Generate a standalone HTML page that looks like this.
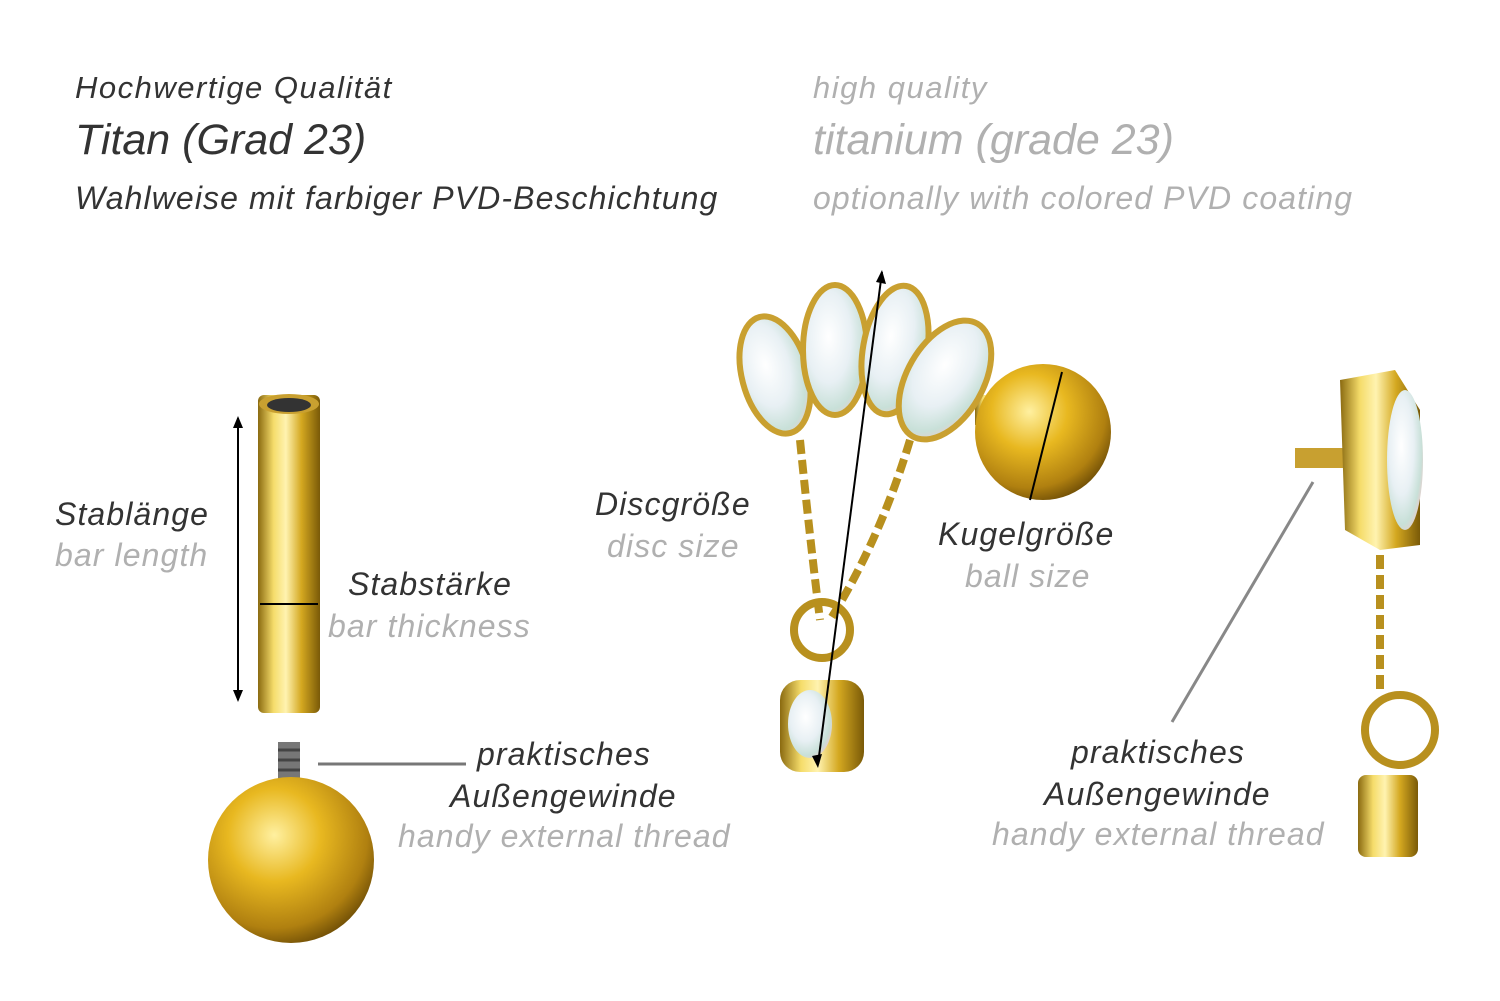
<!DOCTYPE html>
<html><head><meta charset="utf-8"><style>
html,body{margin:0;padding:0;background:#fff;}
#c{position:relative;width:1500px;height:1001px;overflow:hidden;font-family:"Liberation Sans",sans-serif;font-style:italic;}
.t{position:absolute;white-space:nowrap;line-height:1;letter-spacing:1.1px;}
.d{color:#333;}
.g{color:#b0b0b0;}
svg{position:absolute;left:0;top:0;}
</style></head><body><div id="c">
<svg width="1500" height="1001" viewBox="0 0 1500 1001">
<defs>
<linearGradient id="bar" x1="0" x2="1"><stop offset="0" stop-color="#8a6a10"/><stop offset=".25" stop-color="#f5dc6a"/><stop offset=".45" stop-color="#fff3b0"/><stop offset=".7" stop-color="#d4a820"/><stop offset="1" stop-color="#7a5a08"/></linearGradient>
<radialGradient id="ball" cx=".4" cy=".35" r=".7"><stop offset="0" stop-color="#fff0a0"/><stop offset=".4" stop-color="#e8b820"/><stop offset=".8" stop-color="#b08010"/><stop offset="1" stop-color="#6a4a05"/></radialGradient>
<radialGradient id="opal" cx=".4" cy=".4" r=".7"><stop offset="0" stop-color="#ffffff"/><stop offset=".5" stop-color="#e8f0f4"/><stop offset=".8" stop-color="#c8e0d8"/><stop offset="1" stop-color="#f0c8c8"/></radialGradient>
</defs>
<rect x="258" y="395" width="62" height="318" rx="6" fill="url(#bar)"/>
<ellipse cx="289" cy="404" rx="30" ry="10" fill="#c9a030"/>
<ellipse cx="289" cy="405" rx="22" ry="7" fill="#333"/>
<line x1="238" y1="418" x2="238" y2="700" stroke="#000" stroke-width="2"/>
<path d="M233 428 L238 416 L243 428Z M233 690 L238 702 L243 690Z"/>
<line x1="260" y1="604" x2="318" y2="604" stroke="#000" stroke-width="2"/>
<rect x="278" y="742" width="22" height="58" fill="#777"/>
<path d="M278 750h22M278 760h22M278 770h22M278 780h22M278 790h22" stroke="#444" stroke-width="3"/>
<circle cx="291" cy="860" r="83" fill="url(#ball)"/>
<line x1="318" y1="764" x2="466" y2="764" stroke="#777" stroke-width="3"/>
<rect x="975" y="395" width="30" height="30" fill="url(#bar)"/>
<circle cx="1043" cy="432" r="68" fill="url(#ball)"/>
<ellipse cx="775" cy="375" rx="33" ry="60" fill="url(#opal)" stroke="#c9a030" stroke-width="6" transform="rotate(-15 775 375)"/>
<ellipse cx="835" cy="350" rx="32" ry="65" fill="url(#opal)" stroke="#c9a030" stroke-width="6"/>
<ellipse cx="895" cy="350" rx="32" ry="65" fill="url(#opal)" stroke="#c9a030" stroke-width="6" transform="rotate(10 895 350)"/>
<ellipse cx="945" cy="380" rx="38" ry="65" fill="url(#opal)" stroke="#c9a030" stroke-width="6" transform="rotate(30 945 380)"/>
<path d="M800 440 Q810 540 820 620 M910 440 Q880 540 830 620" stroke="#b8901e" stroke-width="8" fill="none" stroke-dasharray="14 6"/>
<circle cx="822" cy="630" r="28" fill="none" stroke="#b8901e" stroke-width="8"/>
<rect x="780" y="680" width="84" height="92" rx="20" fill="url(#bar)"/>
<ellipse cx="810" cy="724" rx="22" ry="34" fill="url(#opal)"/>
<line x1="818" y1="764" x2="882" y2="272" stroke="#000" stroke-width="2"/>
<path d="M876 282 L882 270 L886 284Z M812 756 L818 768 L822 754Z"/>
<line x1="1062" y1="372" x2="1030" y2="500" stroke="#000" stroke-width="2"/>
<rect x="1295" y="448" width="50" height="20" fill="#c8a030"/>
<path d="M1340 380 L1395 370 L1420 410 L1420 545 L1380 550 L1345 530 Z" fill="url(#bar)"/>
<ellipse cx="1405" cy="460" rx="18" ry="70" fill="url(#opal)"/>
<path d="M1380 555 L1380 690" stroke="#b8901e" stroke-width="8" stroke-dasharray="14 6"/>
<circle cx="1400" cy="730" r="35" fill="none" stroke="#b8901e" stroke-width="8"/>
<rect x="1358" y="775" width="60" height="82" rx="8" fill="url(#bar)"/>
<line x1="1313" y1="482" x2="1172" y2="722" stroke="#888" stroke-width="3"/>
</svg>
<div class="t d" style="left:75px;top:72px;font-size:31px;letter-spacing:1.5px">Hochwertige Qualität</div>
<div class="t d" style="left:75px;top:119px;font-size:43px;letter-spacing:0">Titan (Grad 23)</div>
<div class="t d" style="left:75px;top:182px;font-size:32px">Wahlweise mit farbiger PVD-Beschichtung</div>
<div class="t g" style="left:813px;top:72px;font-size:31px;letter-spacing:1.5px">high quality</div>
<div class="t g" style="left:813px;top:119px;font-size:43px;letter-spacing:0">titanium (grade 23)</div>
<div class="t g" style="left:813px;top:182px;font-size:32px">optionally with colored PVD coating</div>
<div class="t d" style="left:55px;top:498px;font-size:32px">Stablänge</div>
<div class="t g" style="left:55px;top:539px;font-size:32px">bar length</div>
<div class="t d" style="left:348px;top:568px;font-size:32px">Stabstärke</div>
<div class="t g" style="left:328px;top:610px;font-size:32px">bar thickness</div>
<div class="t d" style="left:477px;top:738px;font-size:32px">praktisches</div>
<div class="t d" style="left:450px;top:780px;font-size:32px">Außengewinde</div>
<div class="t g" style="left:398px;top:820px;font-size:32px">handy external thread</div>
<div class="t d" style="left:595px;top:488px;font-size:32px">Discgröße</div>
<div class="t g" style="left:607px;top:530px;font-size:32px">disc size</div>
<div class="t d" style="left:938px;top:518px;font-size:32px">Kugelgröße</div>
<div class="t g" style="left:965px;top:560px;font-size:32px">ball size</div>
<div class="t d" style="left:1071px;top:736px;font-size:32px">praktisches</div>
<div class="t d" style="left:1044px;top:778px;font-size:32px">Außengewinde</div>
<div class="t g" style="left:992px;top:818px;font-size:32px">handy external thread</div>
</div></body></html>
